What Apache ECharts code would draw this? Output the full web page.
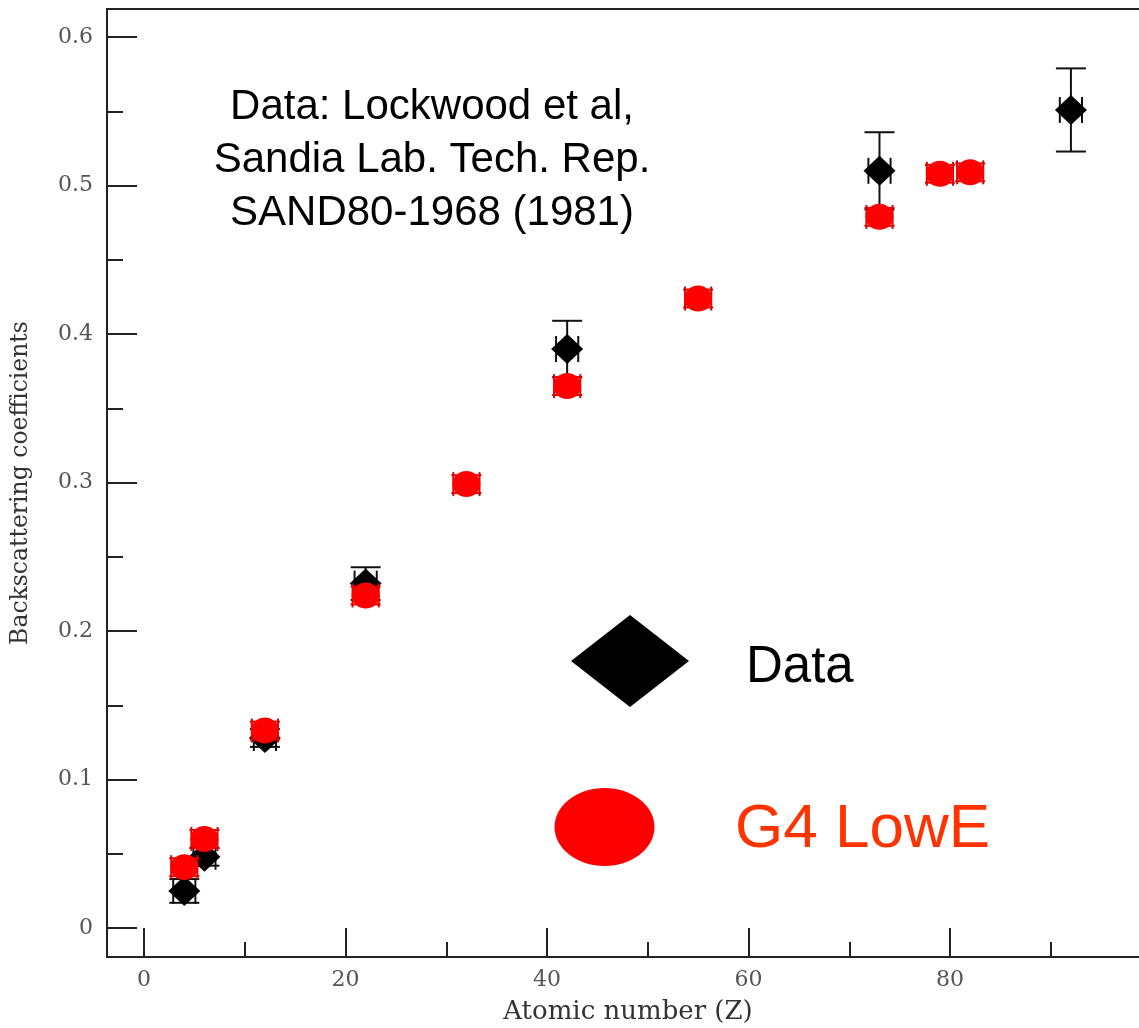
<!DOCTYPE html>
<html>
<head>
<meta charset="utf-8">
<script src="https://cdn.jsdelivr.net/npm/echarts@6/dist/echarts.min.js"></script>
<style>html,body{margin:0;padding:0;background:#fff;overflow:hidden}#c{width:1139px;height:1028px}</style>
</head>
<body>
<div id="c"></div>
<script>
// Measured data (Lockwood et al.) : atomic number, backscattering coefficient, errors
const dataZ    = [4, 6, 12, 22, 42, 73, 92];
const dataY    = [0.025, 0.048, 0.128, 0.232, 0.390, 0.510, 0.551];
const dataErr  = [0.008, 0.006, 0.006, 0.011, 0.019, 0.026, 0.028];
const dataZErr = [1.1, 1.1, 1.1, 1.1, 1.1, 1.1, 1.1];
// Geant4 LowE simulation
const g4Z    = [4, 6, 12, 22, 32, 42, 55, 73, 79, 82];
const g4Y    = [0.041, 0.060, 0.133, 0.224, 0.299, 0.365, 0.424, 0.479, 0.508, 0.509];
const g4Err  = [0.006, 0.006, 0.006, 0.006, 0.006, 0.006, 0.006, 0.006, 0.006, 0.006];
const g4ZErr = [1.3, 1.3, 1.3, 1.3, 1.3, 1.3, 1.3, 1.3, 1.3, 1.3];
// Axis ticks
const xMajor = [0, 20, 40, 60, 80];
const xMinor = [10, 30, 50, 70, 90];
const yMajor = [0, 0.1, 0.2, 0.3, 0.4, 0.5, 0.6];
const yMinor = [0.05, 0.15, 0.25, 0.35, 0.45, 0.55];
const noteLines = ['Data: Lockwood et al,', 'Sandia Lab. Tech. Rep.', 'SAND80-1968 (1981)'];

const serif = '"DejaVu Serif", "Liberation Serif", serif';
const sans = '"Liberation Sans", Arial, sans-serif';
const X_MIN = -3.672, X_MAX = 99.75, Y_MIN = -0.0195, Y_MAX = 0.619;

function errRenderer(color, capHalf, hCapHalf) {
  return function (params, api) {
    const x = api.value(0), y = api.value(1), ey = api.value(2), ex = api.value(3);
    const c = api.coord([x, y]);
    const t = api.coord([x, y + ey]);
    const b = api.coord([x, y - ey]);
    const l = api.coord([x - ex, y]);
    const r = api.coord([x + ex, y]);
    const st = { stroke: color, lineWidth: 2 };
    return {
      type: 'group',
      children: [
        { type: 'line', shape: { x1: t[0], y1: t[1], x2: b[0], y2: b[1] }, style: st },
        { type: 'line', shape: { x1: t[0] - capHalf, y1: t[1], x2: t[0] + capHalf, y2: t[1] }, style: st },
        { type: 'line', shape: { x1: b[0] - capHalf, y1: b[1], x2: b[0] + capHalf, y2: b[1] }, style: st },
        { type: 'line', shape: { x1: l[0], y1: c[1], x2: r[0], y2: c[1] }, style: st },
        { type: 'line', shape: { x1: l[0], y1: c[1] - hCapHalf, x2: l[0], y2: c[1] + hCapHalf }, style: st },
        { type: 'line', shape: { x1: r[0], y1: c[1] - hCapHalf, x2: r[0], y2: c[1] + hCapHalf }, style: st }
      ]
    };
  };
}

const chart = echarts.init(document.getElementById('c'));
chart.setOption({
  animation: false,
  backgroundColor: '#fff',
  grid: { left: 107, top: 9, width: 1042, height: 948, containLabel: false, outerBoundsMode: 'none',
    show: true, borderColor: '#222', borderWidth: 2 },
  xAxis: [{
    type: 'value', min: X_MIN, max: X_MAX,
    name: 'Atomic number (Z)', nameLocation: 'middle', nameGap: 42,
    nameTextStyle: { fontFamily: serif, fontSize: 26, color: '#333' },
    axisLine: { onZero: false, lineStyle: { color: '#222', width: 2 } },
    axisTick: { inside: true, length: 29, customValues: xMajor, lineStyle: { color: '#222', width: 2 } },
    axisLabel: { customValues: xMajor, fontFamily: serif, fontSize: 22, color: '#555', margin: 12 },
    splitLine: { show: false }
  }, {
    type: 'value', min: X_MIN, max: X_MAX, position: 'bottom',
    axisLine: { show: false, onZero: false },
    axisTick: { inside: true, length: 15, customValues: xMinor, lineStyle: { color: '#222', width: 2 } },
    axisLabel: { show: false },
    splitLine: { show: false }
  }],
  yAxis: [{
    type: 'value', min: Y_MIN, max: Y_MAX,
    name: 'Backscattering coefficients', nameLocation: 'middle', nameGap: 74, nameRotate: 90,
    nameTextStyle: { fontFamily: serif, fontSize: 23.5, color: '#333' },
    axisLine: { onZero: false, lineStyle: { color: '#222', width: 2 } },
    axisTick: { inside: true, length: 30, customValues: yMajor, lineStyle: { color: '#222', width: 2 } },
    axisLabel: { customValues: yMajor, fontFamily: serif, fontSize: 22, color: '#555', margin: 14,
      formatter: v => String(Math.round(v * 10) / 10) },
    splitLine: { show: false }
  }, {
    type: 'value', min: Y_MIN, max: Y_MAX, position: 'left',
    axisLine: { show: false, onZero: false },
    axisTick: { inside: true, length: 16, customValues: yMinor, lineStyle: { color: '#222', width: 2 } },
    axisLabel: { show: false },
    splitLine: { show: false }
  }],
  series: [
    {
      type: 'custom', xAxisIndex: 0, yAxisIndex: 0, z: 2,
      renderItem: errRenderer('#111', 15, 13),
      data: dataZ.map((z, i) => [z, dataY[i], dataErr[i], dataZErr[i]])
    },
    {
      type: 'scatter', symbol: 'diamond', symbolSize: [32, 30], z: 3,
      itemStyle: { color: '#000', opacity: 1 },
      data: dataZ.map((z, i) => [z, dataY[i]])
    },
    {
      type: 'custom', z: 4,
      renderItem: errRenderer('#e00000', 15, 12),
      data: g4Z.map((z, i) => [z, g4Y[i], g4Err[i], g4ZErr[i]])
    },
    {
      type: 'scatter', symbol: 'circle', symbolSize: [28, 26], z: 5,
      itemStyle: { color: '#ff0000', opacity: 1 },
      data: g4Z.map((z, i) => [z, g4Y[i]])
    }
  ],
  graphic: [
    {
      type: 'text', left: 432 - 230, top: 81, z: 10,
      style: {
        text: noteLines.join('\n'), font: '42px ' + sans, fill: '#000',
        textAlign: 'center', width: 460, lineHeight: 53, x: 230
      }
    },
    { type: 'polygon', z: 10, shape: { points: [[571, 661], [630, 615], [689, 661], [630, 707]] }, style: { fill: '#000' } },
    { type: 'ellipse', z: 10, shape: { cx: 604.5, cy: 827, rx: 50, ry: 39 }, style: { fill: '#ff0000' } },
    { type: 'text', z: 10, x: 746, y: 668, style: { text: 'Data', font: '51px ' + sans, fill: '#000', textVerticalAlign: 'middle' } },
    { type: 'text', z: 10, x: 735, y: 830, style: { text: 'G4 LowE', font: '62px ' + sans, fill: '#ff3300', textVerticalAlign: 'middle' } }
  ]
});
</script>
</body>
</html>
